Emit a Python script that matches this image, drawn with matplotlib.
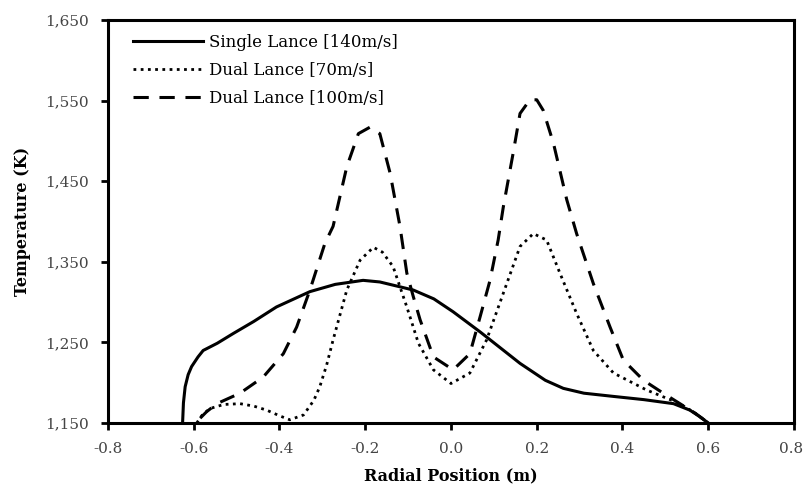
import matplotlib.pyplot as plt
import matplotlib.transforms as mtransforms
from matplotlib.ticker import FuncFormatter

# Single lance 140 m/s
x_single = [-0.626, -0.624, -0.620, -0.613, -0.605, -0.590, -0.578, -0.545, -0.508, -0.460,
            -0.407, -0.329, -0.270, -0.205, -0.166, -0.088, -0.040, 0.005, 0.068,
            0.161, 0.220, 0.262, 0.310, 0.379, 0.450, 0.519, 0.557, 0.580, 0.600]
t_single = [1150, 1175, 1195, 1210, 1220, 1232, 1240, 1249, 1261, 1276,
            1294, 1313, 1322, 1327, 1325, 1315, 1304, 1288, 1263,
            1224, 1203, 1193, 1187, 1183, 1179, 1174, 1166, 1158, 1150]

# Dual lance 70 m/s
x_d70 = [-0.593, -0.580, -0.562, -0.530, -0.492, -0.460, -0.430, -0.400, -0.376, -0.344,
         -0.320, -0.306, -0.290, -0.275, -0.243, -0.212, -0.181, -0.160, -0.135, -0.103,
         -0.076, -0.041, 0.000, 0.044, 0.083, 0.122, 0.161, 0.192, 0.223, 0.254,
         0.293, 0.332, 0.379, 0.456, 0.534, 0.570, 0.600]
t_d70 = [1150, 1160, 1168, 1173, 1174, 1171, 1166, 1159, 1154, 1160,
         1178, 1195, 1222, 1253, 1315, 1352, 1368, 1362, 1344, 1294,
         1249, 1216, 1199, 1212, 1253, 1311, 1369, 1385, 1377, 1336,
         1286, 1240, 1212, 1191, 1174, 1162, 1150]

# Dual lance 100 m/s
x_d100 = [-0.585, -0.570, -0.546, -0.492, -0.438, -0.391, -0.360, -0.329, -0.294, -0.275,
          -0.243, -0.216, -0.189, -0.166, -0.142, -0.119, -0.103, -0.088, -0.072, -0.041,
          0.005, 0.044, 0.068, 0.091, 0.110, 0.122, 0.145, 0.161, 0.184, 0.200,
          0.215, 0.239, 0.270, 0.293, 0.332, 0.371, 0.402, 0.449, 0.495, 0.534,
          0.570, 0.600]
t_d100 = [1156, 1164, 1174, 1187, 1207, 1236, 1269, 1315, 1373, 1394,
          1468, 1509, 1517, 1509, 1460, 1394, 1336, 1307, 1278, 1232,
          1216, 1236, 1282, 1327, 1377, 1418, 1485, 1534, 1551, 1551,
          1538, 1497, 1427, 1385, 1323, 1269, 1228, 1203, 1187, 1174,
          1162, 1150]

labels = ["Single Lance [140m/s]", "Dual Lance [70m/s]", "Dual Lance [100m/s]"]
x_ticks = [-0.8, -0.6, -0.4, -0.2, 0.0, 0.2, 0.4, 0.6, 0.8]
y_ticks = [1150, 1250, 1350, 1450, 1550, 1650]

plt.rcParams['font.family'] = ['DejaVu Serif']

fig = plt.figure(figsize=(8.07, 4.9), dpi=100)
ax = fig.add_axes([0.1338, 0.1367, 0.8501, 0.8225])

ax.plot(x_single, t_single, color="black", lw=2.2, ls="-", label=labels[0])
ax.plot(x_d70, t_d70, color="black", lw=2.0, ls=(0, (1, 1.6)), label=labels[1])
ax.plot(x_d100, t_d100, color="black", lw=2.2, ls=(0, (5, 3.5)), label=labels[2])

ax.set_xlim(-0.8, 0.8)
ax.set_ylim(1150, 1650)
ax.set_xticks(x_ticks)
ax.set_yticks(y_ticks)
ax.xaxis.set_major_formatter(FuncFormatter(lambda v, p: f"{v:.1f}"))
ax.yaxis.set_major_formatter(FuncFormatter(lambda v, p: f"{int(v):,}"))

for s in ax.spines.values():
    s.set_linewidth(2.2)
ax.tick_params(direction="out", length=5, width=2, labelsize=11, colors="black",
               labelcolor="#444444")
ax.tick_params(axis="x", pad=9)
ax.tick_params(axis="y", pad=9)

# nudge the last x label a little so it stays inside the image
last = ax.get_xticklabels()[-1]
last.set_transform(last.get_transform() +
                   mtransforms.ScaledTranslation(-2 / 72, 0, fig.dpi_scale_trans))

ax.set_xlabel("Radial Position (m)", fontsize=11.5, fontweight="bold", labelpad=8)
ax.set_ylabel("Temperature (K)", fontsize=11.5, fontweight="bold", labelpad=10)

ax.legend(loc="upper left", frameon=False, fontsize=12, handlelength=4.2,
          handletextpad=0.35, labelspacing=0.65, borderaxespad=0.45,
          bbox_to_anchor=(0.016, 1.0))

fig.savefig("out.png", dpi=100)
